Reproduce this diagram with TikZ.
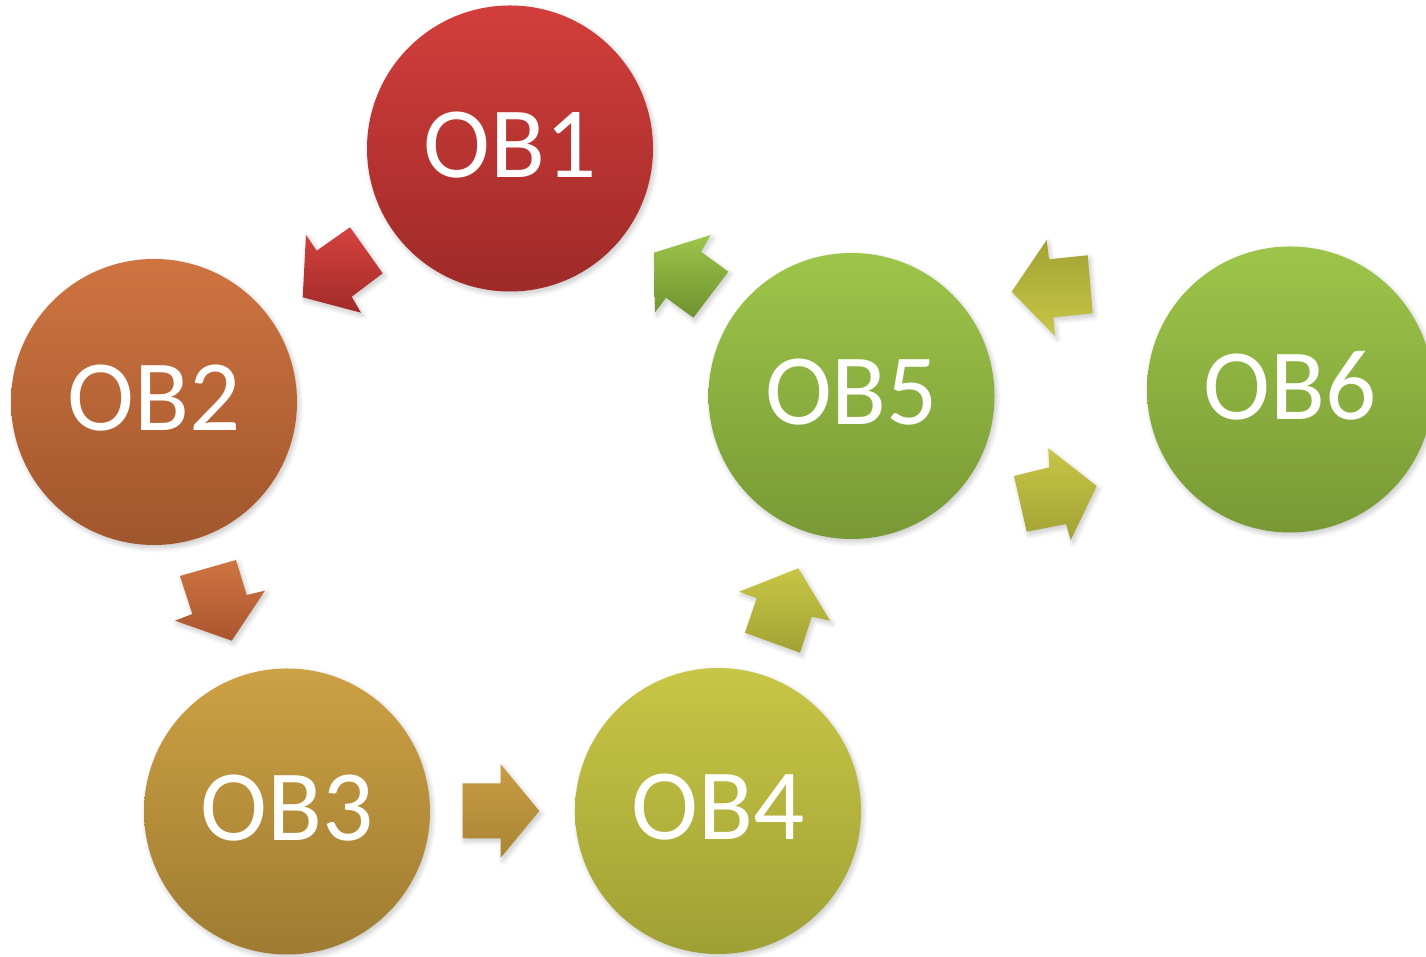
\documentclass[tikz,border=0pt]{standalone}
\usepackage{fontspec}
\setmainfont{Carlito}
\usetikzlibrary{shadows.blur}
\definecolor{r1}{HTML}{D23E3B}\definecolor{r2}{HTML}{9E2A28}
\definecolor{o1}{HTML}{CF7441}\definecolor{o2}{HTML}{A0562C}
\definecolor{g1}{HTML}{CDA144}\definecolor{g2}{HTML}{9E7B31}
\definecolor{y1}{HTML}{C8C646}\definecolor{y2}{HTML}{9FA034}
\definecolor{l1}{HTML}{9EC54A}\definecolor{l2}{HTML}{789935}
\definecolor{ar1}{HTML}{D5423E}\definecolor{ar2}{HTML}{A12B29}
\definecolor{ao1}{HTML}{CF7542}\definecolor{ao2}{HTML}{A9552E}
\definecolor{ag1}{HTML}{C99C44}\definecolor{ag2}{HTML}{AA8535}
\definecolor{ay1}{HTML}{C8C646}\definecolor{ay2}{HTML}{A2A234}
\definecolor{al1}{HTML}{9DC54A}\definecolor{al2}{HTML}{6E9230}
\tikzset{
  softshadow/.style={blur shadow={shadow xshift=2pt, shadow yshift=-3pt, shadow blur radius=5pt, shadow opacity=22, shadow blur steps=10}},
  ball/.style={circle, minimum size=286pt, inner sep=0pt, text=white, softshadow,
    font=\fontsize{101}{101}\selectfont, text depth=8pt},
  blockarrow/.style={softshadow}
}
\begin{document}
\begin{tikzpicture}[x=1pt,y=1pt]
\useasboundingbox (0,0) rectangle (1426,957);
% circles
\node[ball, top color=r1, bottom color=r2] (ob1) at (510,808.5) {OB1};
\node[ball, top color=o1, bottom color=o2] (ob2) at (154,555) {OB2};
\node[ball, top color=g1, bottom color=g2] (ob3) at (287,145.5) {OB3};
\node[ball, top color=y1, bottom color=y2] (ob4) at (718,146) {OB4};
\node[ball, top color=l1, bottom color=l2] (ob5) at (851.5,561) {OB5};
\node[ball, top color=l1, bottom color=l2] (ob6) at (1290,567.5) {OB6};
% block arrows
\shade[blockarrow, top color=ar1, bottom color=ar2]
  (302.7,659.7) -- (306,722) -- (316.7,706.3) -- (350,729.7) -- (382.7,683.7) -- (351.7,660.3) -- (361,644.3) -- cycle;
\shade[blockarrow, top color=ao1, bottom color=ao2]
  (180,381) -- (236,397) -- (246.7,362) -- (265,366.3) -- (231.7,316.3) -- (175,336.3) -- (192.3,343) -- cycle;
\shade[blockarrow, top color=ag1, bottom color=ag2]
  (462.7,173.7) -- (500.7,173.7) -- (500.7,192.7) -- (539.3,146) -- (500.7,99.3) -- (500.7,118.7) -- (462.7,118.7) -- cycle;
\shade[blockarrow, top color=ay1, bottom color=ay2]
  (798.3,388.7) -- (830,336.3) -- (811.7,340.3) -- (800,304.3) -- (745,324.3) -- (756.7,358.7) -- (739.3,365.3) -- cycle;
\shade[blockarrow, top color=al1, bottom color=al2]
  (654,704.3) -- (710.7,722) -- (701,705.3) -- (728.3,685.3) -- (693.3,639.3) -- (666,659.3) -- (655,644.7) -- cycle;
\shade[blockarrow, top color=ay2, bottom color=ay1]
  (1011.7,665.3) -- (1046.7,717) -- (1049,697.7) -- (1087.7,701.7) -- (1092.7,643.7) -- (1053.3,639.7) -- (1055,621) -- cycle;
\shade[blockarrow, top color=ay1, bottom color=ay2]
  (1014,481) -- (1049.3,489.7) -- (1048.3,508.7) -- (1096.7,471) -- (1070.7,417) -- (1066,433) -- (1026.7,425.3) -- cycle;
\end{tikzpicture}
\end{document}
